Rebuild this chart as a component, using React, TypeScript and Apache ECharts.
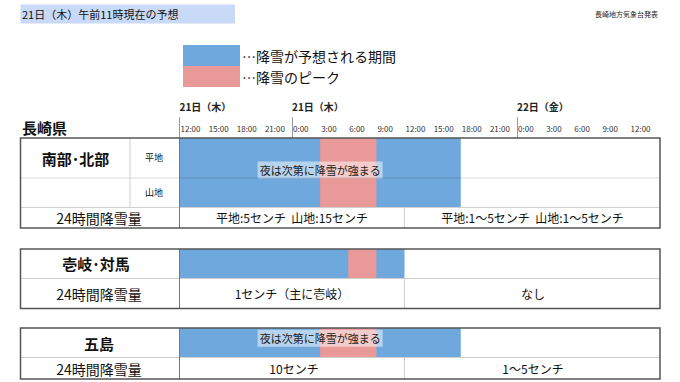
import React, { useEffect, useRef } from "react";
import * as echarts from "echarts";

const FONT = "'Noto Sans CJK JP', 'Noto Sans', sans-serif";

// ---- data ----
const titleText = "21日（木）午前11時現在の予想";
const issuerText = "長崎地方気象台発表";
const prefectureName = "長崎県";
const regionNames = ["南部･北部", "壱岐･対馬", "五島"];
const subRowNames = ["平地", "山地"];
const snowName = "…降雪が予想される期間";
const peakName = "…降雪のピーク";
// hours counted from 21日 12:00
const snowStart = [0, 0, 0];
const snowEnd = [30, 24, 30];
const peakStart = [15, 18, 15];
const peakEnd = [21, 21, 21];
const noteText = "夜は次第に降雪が強まる";
const noteHours = [15, null, 15];
const amountLabel = "24時間降雪量";
const amountFirst = ["平地:5センチ  山地:15センチ", "1センチ（主に壱岐）", "10センチ"];
const amountSecond = ["平地:1～5センチ  山地:1～5センチ", "なし", "1～5センチ"];
const dayHours = [0, 12, 36];
const dayTexts = ["21日（木）", "21日（木）", "22日（金）"];
const AXIS_MAX = 51.25;
const TICK_STEP = 3;
const LAST_TICK = 48;

const BLUE = "#6fa8dc";
const PINK = "#ea9999";

export default function App() {
  const ref = useRef<HTMLDivElement>(null);
  useEffect(() => {
    document.body.style.margin = "0";
    const chart = echarts.init(ref.current!, null, { renderer: "svg" });

    const gridTops = [138, 249, 328];
    const gridHeights = [69, 29, 29.5];
    const grids: any[] = [
      { left: 179.5, right: 20, top: 117, height: 21 },
      ...gridTops.map((t, i) => ({ left: 179.5, right: 20, top: t, height: gridHeights[i] })),
    ];

    const xAxes: any[] = [
      {
        gridIndex: 0, type: "value", min: 0, max: AXIS_MAX, interval: 12, position: "top",
        axisLine: { show: false }, axisTick: { show: false }, splitLine: { show: false },
        axisLabel: {
          show: true, margin: 6, fontSize: 10, fontWeight: "bold", color: "#222", fontFamily: FONT,
          align: "left", showMaxLabel: false,
          formatter: (v: number) => {
            const i = dayHours.indexOf(v);
            return i >= 0 ? dayTexts[i] : "";
          },
        },
      },
      ...[1, 2, 3].map((g) => ({
        gridIndex: g, type: "value", min: 0, max: AXIS_MAX, interval: TICK_STEP, position: "top",
        axisLine: { show: false }, axisTick: { show: false }, splitLine: { show: false },
        axisLabel: g === 1 ? {
          show: true, margin: 6, fontSize: 8, color: "#333", fontFamily: FONT, align: "left",
          padding: [0, 0, 0, 1], showMaxLabel: false,
          formatter: (v: number) => (v > LAST_TICK ? "" : `${(12 + v) % 24}:00`),
        } : { show: false },
      })),
    ];
    const yAxes: any[] = [
      { gridIndex: 0, type: "value", show: false, min: 0, max: 1 },
      ...[1, 2, 3].map((g) => ({ gridIndex: g, type: "category", show: false, data: [regionNames[g - 1]] })),
    ];

    const barRender = (params: any, api: any) => {
      const p0 = api.coord([api.value(0), 0]);
      const p1 = api.coord([api.value(1), 0]);
      const cs = params.coordSys;
      return {
        type: "rect",
        shape: { x: p0[0], y: cs.y, width: p1[0] - p0[0], height: cs.height },
        style: { fill: api.visual("color") },
      };
    };

    const series: any[] = [];
    regionNames.forEach((name, i) => {
      series.push({
        type: "custom", name: snowName, xAxisIndex: i + 1, yAxisIndex: i + 1,
        itemStyle: { color: BLUE }, encode: { x: [0, 1], y: 2 },
        data: [[snowStart[i], snowEnd[i], 0]], renderItem: barRender, z: 2,
      });
      series.push({
        type: "custom", name: peakName, xAxisIndex: i + 1, yAxisIndex: i + 1,
        itemStyle: { color: PINK }, encode: { x: [0, 1], y: 2 },
        data: [[peakStart[i], peakEnd[i], 0]], renderItem: barRender, z: 3,
      });
      if (noteHours[i] != null) {
        series.push({
          type: "custom", name: "note", xAxisIndex: i + 1, yAxisIndex: i + 1,
          encode: { x: 0, y: 1 }, data: [[noteHours[i], 0]], z: 4,
          renderItem: (params: any, api: any) => {
            const p = api.coord([api.value(0), 0]);
            const cs = params.coordSys;
            const cy = cs.y + cs.height / 2 - (cs.height > 40 ? 2.5 : 4.5);
            return {
              type: "text", x: p[0], y: cy,
              style: {
                text: noteText, fill: "#222", font: `11px ${FONT}`, align: "center",
                verticalAlign: "middle", backgroundColor: "rgba(255,255,255,0.5)", padding: [3, 2],
              },
            };
          },
        });
      }
    });
    // day tick lines in header grid
    series.push({
      type: "custom", name: "dayticks", xAxisIndex: 0, yAxisIndex: 0,
      data: [], renderItem: () => null,
      markLine: {
        silent: true, symbol: "none", label: { show: false },
        lineStyle: { color: "#999", width: 1, type: "solid" },
        data: dayHours.map((h) => ({ xAxis: h })),
      },
    });

    const dark = "#555";
    const light = "#cfcfcf";
    const L = 20.5, R = 660;
    const line = (x1: number, y1: number, x2: number, y2: number, c: string, w = 1) => ({
      type: "line", z: 100, silent: true,
      shape: { x1, y1, x2, y2 }, style: { stroke: c, lineWidth: w },
    });
    const txt = (text: string, x: number, y: number, size: number, bold = false, align = "center", fill = "#111") => ({
      type: "text", z: 101, silent: true, x, y,
      style: {
        text, x: 0, y: 0, fill, align, verticalAlign: "middle",
        font: `${bold ? "bold " : ""}${size}px ${FONT}`,
      },
    });

    const graphics: any[] = [
      { type: "rect", z: 0, silent: true, shape: { x: 20.5, y: 4.5, width: 214.5, height: 19 }, style: { fill: "#c9daf8" } },
      txt(titleText, 22, 14, 11, false, "left", "#111"),
      txt(issuerText, 658, 14, 7, false, "right", "#222"),
      txt(prefectureName, 22, 127.5, 15, true, "left", "#111"),
      // table 1
      line(L, 178, R, 178, "rgba(0,0,0,0.15)"),
      line(L, 207.5, R, 207.5, light),
      line(130, 138, 130, 207.5, light),
      line(179.5, 138, 179.5, 228, "#777"),
      line(404.5, 207.5, 404.5, 228, light),
      { type: "rect", z: 100, silent: true, shape: { x: L, y: 138, width: R - L, height: 90 }, style: { fill: "none", stroke: dark, lineWidth: 1.5 } },
      txt(regionNames[0], 75.5, 158, 15, true),
      txt(subRowNames[0], 154, 157.5, 9),
      txt(subRowNames[1], 154, 192, 9),
      txt(amountLabel, 99, 217.5, 14),
      txt(amountFirst[0], 292, 217.5, 12),
      txt(amountSecond[0], 532.5, 217.5, 12),
      // table 2
      line(L, 278.5, R, 278.5, light),
      line(179.5, 249, 179.5, 308.5, "#777"),
      line(404.5, 278.5, 404.5, 308.5, light),
      { type: "rect", z: 100, silent: true, shape: { x: L, y: 249, width: R - L, height: 59.5 }, style: { fill: "none", stroke: dark, lineWidth: 1.5 } },
      txt(regionNames[1], 96, 263.5, 15, true),
      txt(amountLabel, 99, 293.5, 14),
      txt(amountFirst[1], 292, 293.5, 12),
      txt(amountSecond[1], 533, 293.5, 12),
      // table 3
      line(L, 357.5, R, 357.5, light),
      line(179.5, 328, 179.5, 379, "#777"),
      line(404.5, 357.5, 404.5, 379, light),
      { type: "rect", z: 100, silent: true, shape: { x: L, y: 328, width: R - L, height: 51 }, style: { fill: "none", stroke: dark, lineWidth: 1.5 } },
      txt(regionNames[2], 99, 343, 15, true),
      txt(amountLabel, 99, 368.5, 14),
      txt(amountFirst[2], 294, 368.5, 12),
      txt(amountSecond[2], 533, 368.5, 12),
    ];

    chart.setOption({
      animation: false,
      textStyle: { fontFamily: FONT },
      legend: {
        data: [snowName, peakName], orient: "vertical", left: 178, top: 40,
        itemWidth: 57, itemHeight: 21, itemGap: 0, icon: "rect", selectedMode: false,
        textStyle: { fontSize: 14, color: "#111", fontFamily: FONT, padding: [0, 0, 0, -3] },
      },
      grid: grids,
      xAxis: xAxes,
      yAxis: yAxes,
      series,
      graphic: graphics,
    });
    return () => chart.dispose();
  }, []);
  return <div ref={ref} style={{ width: 680, height: 382 }} />;
}
